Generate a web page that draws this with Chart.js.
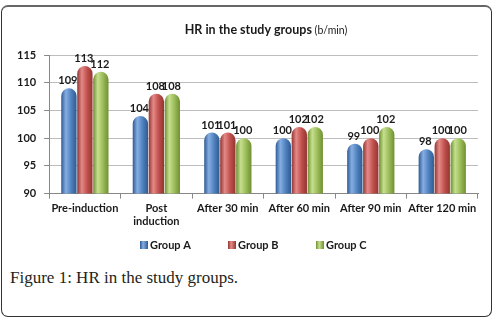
<!DOCTYPE html>
<html>
<head>
<meta charset="utf-8">
<script src="https://cdn.jsdelivr.net/npm/chart.js@4"></script>
<style>
  html, body { margin: 0; padding: 0; background: #fff; }
  body { width: 495px; height: 318px; position: relative; overflow: hidden; }
  .frame {
    position: absolute; left: 1px; top: 5px; width: 489px; height: 309px;
    border: 1px solid #333; border-top: 2px solid #666; border-radius: 7px;
  }
  .chart-box { position: absolute; left: 0; top: 0; width: 495px; height: 262px; }
  .caption {
    position: absolute; left: 10px; top: 268px;
    font-family: "Liberation Serif", "DejaVu Serif", serif; font-size: 17px; color: #231f20;
  }
</style>
</head>
<body>
<div class="frame"></div>
<div class="chart-box"><canvas id="hrChart"></canvas></div>
<div class="caption">Figure 1: HR in the study groups.</div>
<script>
const categories = ['Pre-induction', ['Post', 'induction'], 'After 30 min', 'After 60 min', 'After 90 min', 'After 120 min'];
const groupA = [109, 104, 101, 100, 99, 98];
const groupB = [113, 108, 101, 102, 100, 100];
const groupC = [112, 108, 100, 102, 102, 100];
const yTicks = [90, 95, 100, 105, 110, 115];

const CAT_PCT = 0.67;
const BAR_PCT = 0.96;
const FONT = 'Lato, "Open Sans", sans-serif';

// edge / highlight colours for the cylinder look
const shades = [
    { base: '#4f81bd', dark: '#2e5a92', light: '#86aee4' },
    { base: '#c0504d', dark: '#933532', light: '#e48a87' },
    { base: '#9bbb59', dark: '#6f8f32', light: '#c6e08e' },
];

function barFill(ctx) {
    const s = shades[ctx.datasetIndex];
    if (ctx.type !== 'data') return s.base;
    const chart = ctx.chart;
    const x = chart.scales.x;
    if (!x || !x.width) return s.base;
    const catW = x.width / categories.length;
    const groupW = catW * CAT_PCT;
    const slot = groupW / 3;
    const w = slot * BAR_PCT;
    const center = x.getPixelForValue(ctx.dataIndex) - groupW / 2 + slot * (ctx.datasetIndex + 0.5);
    const g = chart.ctx.createLinearGradient(center - w / 2, 0, center + w / 2, 0);
    g.addColorStop(0, s.dark);
    g.addColorStop(0.3, s.light);
    g.addColorStop(0.65, s.base);
    g.addColorStop(1, s.dark);
    return g;
}

const titlePlugin = {
    id: 'mixedTitle',
    afterDraw(chart) {
        const c = chart.ctx;
        const bold = 'HR in the study groups';
        const light = ' (b/min)';
        c.save();
        c.font = 'bold 12.5px ' + FONT;
        const w1 = c.measureText(bold).width;
        c.font = '10.5px ' + FONT;
        const w2 = c.measureText(light).width;
        const start = 266 - (w1 + w2) / 2;
        c.textBaseline = 'alphabetic';
        c.fillStyle = '#1a1a1a';
        c.font = 'bold 12.5px ' + FONT;
        c.fillText(bold, start, 34);
        c.font = '10.5px ' + FONT;
        c.fillText(light, start + w1, 34);
        c.restore();
    }
};

// legend drawn by hand so the wide gaps between items don't push the plot up
const legendPlugin = {
    id: 'wideLegend',
    afterDraw(chart) {
        const c = chart.ctx;
        const starts = [140, 228, 316];
        c.save();
        c.font = 'bold 11px ' + FONT;
        c.textBaseline = 'middle';
        chart.data.datasets.forEach((ds, i) => {
            const s = shades[i];
            const x0 = starts[i];
            const g = c.createLinearGradient(x0, 0, x0 + 8, 0);
            g.addColorStop(0, s.dark);
            g.addColorStop(0.4, s.light);
            g.addColorStop(1, s.dark);
            c.fillStyle = g;
            c.fillRect(x0, 241, 8, 8);
            c.fillStyle = '#1a1a1a';
            c.fillText(ds.label, x0 + 10, 245.5);
        });
        c.restore();
    }
};

const valueLabels = {
    id: 'valueLabels',
    afterDatasetsDraw(chart) {
        const c = chart.ctx;
        c.save();
        c.font = 'bold 11px ' + FONT;
        c.fillStyle = '#1a1a1a';
        c.textAlign = 'center';
        c.textBaseline = 'bottom';
        chart.data.datasets.forEach((ds, i) => {
            chart.getDatasetMeta(i).data.forEach((bar, j) => {
                c.fillText(String(ds.data[j]), bar.x - 1, bar.y - 2);
            });
        });
        c.restore();
    }
};

const makeSet = (label, data) => ({
    label,
    data,
    backgroundColor: barFill,
    borderWidth: 0,
    borderSkipped: 'bottom',
    borderRadius: { topLeft: 8, topRight: 8, bottomLeft: 0, bottomRight: 0 },
    categoryPercentage: CAT_PCT,
    barPercentage: BAR_PCT,
});

new Chart(document.getElementById('hrChart'), {
    type: 'bar',
    data: {
        labels: categories,
        datasets: [
            makeSet('Group A', groupA),
            makeSet('Group B', groupB),
            makeSet('Group C', groupC),
        ],
    },
    options: {
        responsive: true,
        maintainAspectRatio: false,
        animation: false,
        layout: { padding: { left: 9, right: 17, top: 55, bottom: 31 } },
        plugins: {
            title: { display: false },
            tooltip: { enabled: false },
            legend: { display: false },
        },
        scales: {
            x: {
                grid: { offset: true, drawOnChartArea: false, tickLength: 5, color: '#888' },
                border: { color: '#888' },
                ticks: {
                    color: '#1a1a1a',
                    padding: 3,
                    maxRotation: 0,
                    autoSkip: false,
                    font: { family: FONT, size: 11, weight: 'bold' },
                },
            },
            y: {
                min: yTicks[0],
                max: yTicks[yTicks.length - 1],
                afterBuildTicks: (scale) => { scale.ticks = yTicks.map(v => ({ value: v })); },
                grid: { color: '#bdbdbd', tickLength: 5, tickColor: '#888' },
                border: { color: '#888' },
                ticks: {
                    color: '#1a1a1a',
                    padding: 8,
                    font: { family: FONT, size: 11, weight: 'bold' },
                },
            },
        },
    },
    plugins: [titlePlugin, valueLabels, legendPlugin],
});
</script>
</body>
</html>
